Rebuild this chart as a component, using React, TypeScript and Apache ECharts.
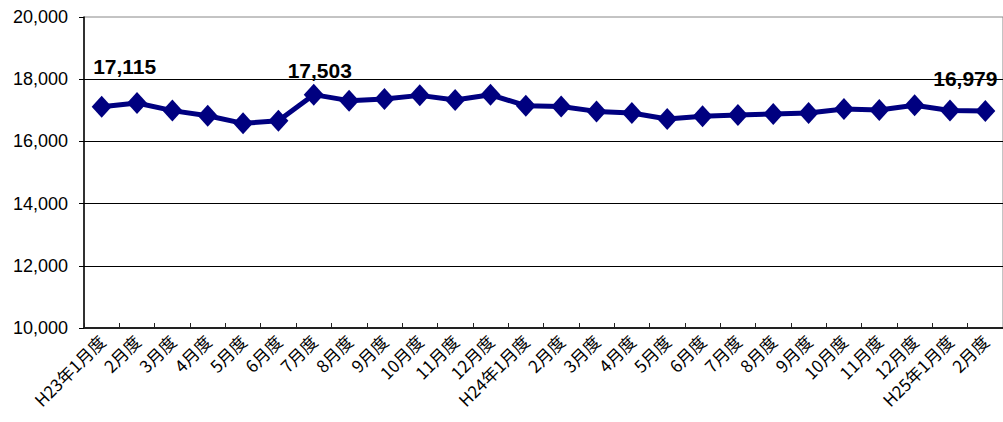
import React, { useEffect, useRef } from "react";
import * as echarts from "echarts";

const categories: string[] = [
  "H23年1月度", "2月度", "3月度", "4月度", "5月度", "6月度", "7月度", "8月度", "9月度", "10月度", "11月度", "12月度",
  "H24年1月度", "2月度", "3月度", "4月度", "5月度", "6月度", "7月度", "8月度", "9月度", "10月度", "11月度", "12月度",
  "H25年1月度", "2月度",
];

const values: number[] = [
  17115, 17235, 16990, 16825, 16580, 16665, 17503, 17310, 17365, 17480, 17330, 17500,
  17150, 17125, 16965, 16915, 16720, 16805, 16850, 16880, 16910, 17040, 17010, 17160,
  16995, 16979,
];

const yTicks: number[] = [10000, 12000, 14000, 16000, 18000, 20000];

// indices of points with a value label, and the label offsets (style)
const labelledIndex: number[] = [0, 6, 25];
const labelOffsets: [number, number][] = [[23, -14], [6, 2], [-20, -6]];

export default function App() {
  const ref = useRef<HTMLDivElement>(null);
  useEffect(() => {
    if (!ref.current) return;
    const chart = echarts.init(ref.current, undefined, { renderer: "svg" });
    const data = values.map((v, i) => {
      const k = labelledIndex.indexOf(i);
      if (k < 0) return v;
      return {
        value: v,
        label: {
          show: true,
          position: "top",
          offset: labelOffsets[k],
          formatter: (p: any) => Number(p.value).toLocaleString("en-US"),
          fontSize: 21,
          fontWeight: "bold",
          color: "#000",
          fontFamily: "Liberation Sans Narrow, Liberation Sans, Arial, sans-serif",
        },
      };
    });
    chart.setOption({
      animation: false,
      backgroundColor: "#fff",
      grid: {
        left: 84,
        top: 17,
        bottom: 94,
        right: -9.5,
        show: true,
        borderColor: "#888",
        borderWidth: 1,
        backgroundColor: "transparent",
      },
      xAxis: {
        type: "category",
        data: categories,
        boundaryGap: true,
        axisLine: { show: true, lineStyle: { color: "#222", width: 2 } },
        axisTick: { show: true, inside: true, length: 5, lineStyle: { color: "#222", width: 1 } },
        axisLabel: {
          interval: 0,
          rotate: 45,
          margin: 10,
          fontSize: 17,
          color: "#000",
          fontFamily: "Noto Sans CJK JP, sans-serif",
        },
        splitLine: { show: false },
      },
      yAxis: {
        type: "value",
        min: yTicks[0],
        max: yTicks[yTicks.length - 1],
        interval: yTicks[1] - yTicks[0],
        axisLine: { show: true, lineStyle: { color: "#000", width: 1.5 } },
        axisTick: { show: true, inside: false, length: 5, lineStyle: { color: "#000" } },
        axisLabel: {
          margin: 16,
          fontSize: 18,
          color: "#000",
          fontFamily: "Liberation Sans, Arial, sans-serif",
          formatter: (v: number) => v.toLocaleString("en-US"),
        },
        splitLine: { show: true, showMaxLine: false, lineStyle: { color: "#000", width: 1 } },
      },
      series: [
        {
          type: "line",
          data,
          symbol: "diamond",
          symbolSize: [20, 22],
          itemStyle: { color: "#000080" },
          lineStyle: { color: "#000080", width: 5 },
          label: { show: false },
          z: 3,
        },
      ],
    });
    return () => chart.dispose();
  }, []);
  return (
    <div
      ref={ref}
      style={{ position: "fixed", left: 0, top: 0, width: 1003, height: 422, background: "#fff" }}
    />
  );
}
